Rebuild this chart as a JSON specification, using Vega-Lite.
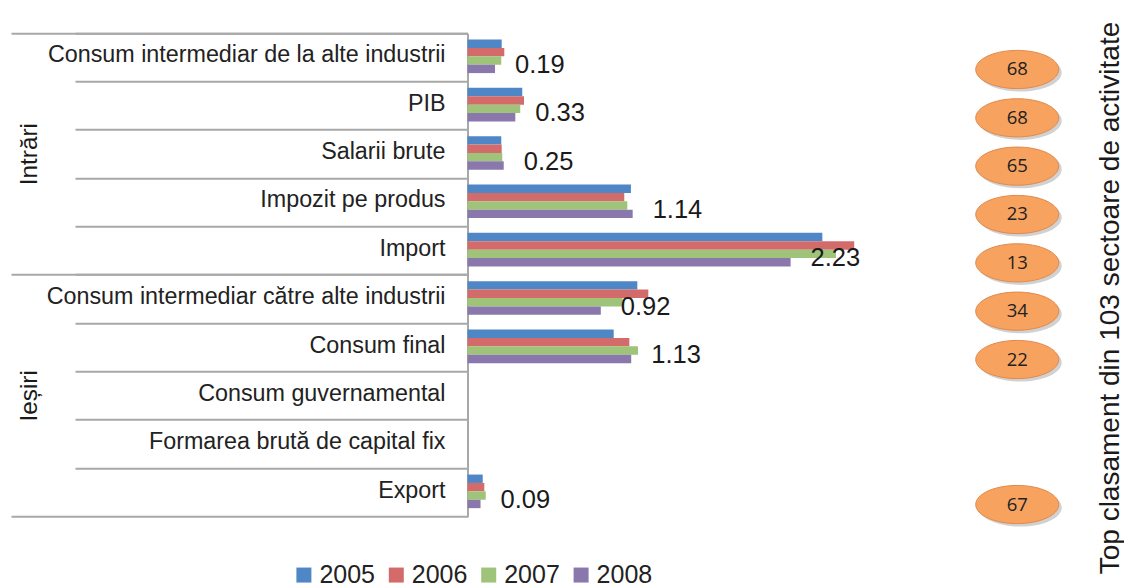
{
  "$schema": "https://vega.github.io/schema/vega-lite/v6.json",
  "autosize": {"type": "none"},
  "padding": {"left": 467.5, "top": 33.3, "right": 4.5, "bottom": 70.3},
  "width": 652,
  "height": 483.4,
  "background": "white",
  "config": {"view": {"stroke": null}},
  "datasets": {
    "bars": [
      {"cat": "Consum intermediar de la alte industrii", "an": "2005", "val": 0.236},
      {"cat": "Consum intermediar de la alte industrii", "an": "2006", "val": 0.254},
      {"cat": "Consum intermediar de la alte industrii", "an": "2007", "val": 0.233},
      {"cat": "Consum intermediar de la alte industrii", "an": "2008", "val": 0.19},
      {"cat": "PIB", "an": "2005", "val": 0.378},
      {"cat": "PIB", "an": "2006", "val": 0.39},
      {"cat": "PIB", "an": "2007", "val": 0.364},
      {"cat": "PIB", "an": "2008", "val": 0.33},
      {"cat": "Salarii brute", "an": "2005", "val": 0.233},
      {"cat": "Salarii brute", "an": "2006", "val": 0.236},
      {"cat": "Salarii brute", "an": "2007", "val": 0.24},
      {"cat": "Salarii brute", "an": "2008", "val": 0.25},
      {"cat": "Impozit pe produs", "an": "2005", "val": 1.128},
      {"cat": "Impozit pe produs", "an": "2006", "val": 1.082},
      {"cat": "Impozit pe produs", "an": "2007", "val": 1.103},
      {"cat": "Impozit pe produs", "an": "2008", "val": 1.14},
      {"cat": "Import", "an": "2005", "val": 2.449},
      {"cat": "Import", "an": "2006", "val": 2.669},
      {"cat": "Import", "an": "2007", "val": 2.543},
      {"cat": "Import", "an": "2008", "val": 2.23},
      {"cat": "Consum intermediar către alte industrii", "an": "2005", "val": 1.172},
      {"cat": "Consum intermediar către alte industrii", "an": "2006", "val": 1.248},
      {"cat": "Consum intermediar către alte industrii", "an": "2007", "val": 1.07},
      {"cat": "Consum intermediar către alte industrii", "an": "2008", "val": 0.92},
      {"cat": "Consum final", "an": "2005", "val": 1.009},
      {"cat": "Consum final", "an": "2006", "val": 1.117},
      {"cat": "Consum final", "an": "2007", "val": 1.177},
      {"cat": "Consum final", "an": "2008", "val": 1.13},
      {"cat": "Export", "an": "2005", "val": 0.105},
      {"cat": "Export", "an": "2006", "val": 0.116},
      {"cat": "Export", "an": "2007", "val": 0.126},
      {"cat": "Export", "an": "2008", "val": 0.09}
    ],
    "ranks": [
      {"cat": "Consum intermediar de la alte industrii", "rank": 68},
      {"cat": "PIB", "rank": 68},
      {"cat": "Salarii brute", "rank": 65},
      {"cat": "Impozit pe produs", "rank": 23},
      {"cat": "Import", "rank": 13},
      {"cat": "Consum intermediar către alte industrii", "rank": 34},
      {"cat": "Consum final", "rank": 22},
      {"cat": "Export", "rank": 67}
    ],
    "groups": [
      {"grup": "Intrări", "cat": "Salarii brute"},
      {"grup": "Ieșiri", "cat": "Consum guvernamental"}
    ]
  },
  "resolve": {"axis": {"y": "independent"}},
  "layer": [
    {
      "data": {"name": "bars"},
      "mark": {"type": "bar"},
      "encoding": {
        "y": {
          "field": "cat", "type": "nominal",
          "scale": {"domain": ["Consum intermediar de la alte industrii", "PIB", "Salarii brute", "Impozit pe produs", "Import", "Consum intermediar către alte industrii", "Consum final", "Consum guvernamental", "Formarea brută de capital fix", "Export"], "paddingInner": 0, "paddingOuter": 0},
          "axis": {"orient": "left", "title": null, "ticks": false, "domain": false, "labelPadding": 22.5, "labelLimit": 0, "labelFont": "Liberation Sans", "labelFontSize": 23.3, "labelColor": "#222222", "labelOffset": -2}
        },
        "x": {"field": "val", "type": "quantitative", "scale": {"domain": [0, 4.5], "nice": false, "zero": true}, "axis": null},
        "yOffset": {"field": "an", "type": "nominal", "scale": {"paddingInner": 0, "paddingOuter": 0.877, "align": 0.42}},
        "color": {
          "field": "an", "type": "nominal",
          "scale": {"domain": ["2005", "2006", "2007", "2008"], "range": ["#4F86C6", "#D36B6A", "#9FC379", "#8A78AD"]},
          "legend": {"orient": "none", "legendX": -176.1, "legendY": 529, "direction": "horizontal", "title": null, "symbolType": "square", "symbolSize": 225, "symbolStrokeWidth": 0, "labelFont": "Liberation Sans", "labelFontSize": 25, "labelColor": "#222222", "labelOffset": 3, "columnPadding": 8.4}
        }
      }
    },
    {
      "data": {"name": "bars"},
      "transform": [{"filter": "datum.an == '2008'"}],
      "mark": {"type": "text", "align": "left", "baseline": "middle", "dx": 20, "dy": -4, "font": "Liberation Sans", "fontSize": 25.5, "color": "#1a1a1a"},
      "encoding": {
        "y": {
          "field": "cat", "type": "nominal",
          "scale": {"domain": ["Consum intermediar de la alte industrii", "PIB", "Salarii brute", "Impozit pe produs", "Import", "Consum intermediar către alte industrii", "Consum final", "Consum guvernamental", "Formarea brută de capital fix", "Export"], "paddingInner": 0, "paddingOuter": 0},
          "axis": {"orient": "left", "title": null, "labels": false, "ticks": true, "bandPosition": 0, "tickSize": 392.5, "tickColor": "#A8A8A8", "tickWidth": 2, "domain": true, "domainColor": "#A8A8A8", "domainWidth": 2}
        },
        "x": {"field": "val", "type": "quantitative"},
        "yOffset": {"field": "an", "type": "nominal"},
        "text": {"field": "val", "type": "quantitative", "format": ".2f"}
      }
    },
    {
      "data": {"name": "ranks"},
      "mark": {"type": "point", "shape": "M -1 0 A 1 0.46 0 1 1 1 0 A 1 0.46 0 1 1 -1 0 Z", "size": 6889, "filled": true, "color": "#000000", "opacity": 0.18, "xOffset": 3, "yOffset": 15},
      "encoding": {
        "y": {
          "field": "cat", "type": "nominal",
          "scale": {"domain": ["Consum intermediar de la alte industrii", "PIB", "Salarii brute", "Impozit pe produs", "Import", "Consum intermediar către alte industrii", "Consum final", "Consum guvernamental", "Formarea brută de capital fix", "Export"], "paddingInner": 0, "paddingOuter": 0},
          "axis": {"orient": "left", "title": null, "labels": false, "ticks": true, "bandPosition": 0, "tickSize": 456.5, "tickColor": "#A8A8A8", "tickWidth": 2, "domain": false, "values": ["Consum intermediar de la alte industrii", "Consum intermediar către alte industrii"]}
        },
        "x": {"datum": 3.794}
      }
    },
    {
      "data": {"name": "ranks"},
      "mark": {"type": "point", "shape": "M -1 0 A 1 0.46 0 1 1 1 0 A 1 0.46 0 1 1 -1 0 Z", "size": 6889, "filled": true, "fill": "#F7A25F", "stroke": "#E08A4C", "strokeWidth": 1, "opacity": 1, "yOffset": 12},
      "encoding": {
        "y": {
          "field": "cat", "type": "nominal",
          "scale": {"domain": ["Consum intermediar de la alte industrii", "PIB", "Salarii brute", "Impozit pe produs", "Import", "Consum intermediar către alte industrii", "Consum final", "Consum guvernamental", "Formarea brută de capital fix", "Export"], "paddingInner": 0, "paddingOuter": 0},
          "axis": {"orient": "left", "title": null, "labels": false, "ticks": true, "bandPosition": 1, "tickSize": 456.5, "tickColor": "#A8A8A8", "tickWidth": 2, "domain": false, "values": ["Export"]}
        },
        "x": {"datum": 3.794}
      }
    },
    {
      "data": {"name": "ranks"},
      "mark": {"type": "text", "align": "center", "baseline": "middle", "yOffset": 12, "font": "Open Sans", "fontSize": 18.5, "color": "#222222"},
      "encoding": {
        "y": {
          "field": "cat", "type": "nominal",
          "scale": {"domain": ["Consum intermediar de la alte industrii", "PIB", "Salarii brute", "Impozit pe produs", "Import", "Consum intermediar către alte industrii", "Consum final", "Consum guvernamental", "Formarea brută de capital fix", "Export"], "paddingInner": 0, "paddingOuter": 0},
          "axis": {"orient": "right", "title": "Top clasament din 103 sectoare de activitate", "labels": false, "ticks": false, "domain": false, "titleAngle": 270, "titleX": -1.5, "titleY": 264.2, "titleAlign": "center", "titleBaseline": "alphabetic", "titleFont": "Liberation Sans", "titleFontSize": 28, "titleFontWeight": "normal", "titleColor": "#1a1a1a"}
        },
        "x": {"datum": 3.794},
        "text": {"field": "rank", "type": "quantitative"}
      }
    },
    {
      "data": {"name": "groups"},
      "mark": {"type": "text", "angle": 270, "align": "center", "baseline": "alphabetic", "font": "Liberation Sans", "fontSize": 24.3, "color": "#1a1a1a"},
      "encoding": {
        "y": {
          "field": "cat", "type": "nominal",
          "scale": {"domain": ["Consum intermediar de la alte industrii", "PIB", "Salarii brute", "Impozit pe produs", "Import", "Consum intermediar către alte industrii", "Consum final", "Consum guvernamental", "Formarea brută de capital fix", "Export"], "paddingInner": 0, "paddingOuter": 0},
          "axis": null
        },
        "x": {"datum": -2.971},
        "text": {"field": "grup", "type": "nominal"}
      }
    }
  ]
}
